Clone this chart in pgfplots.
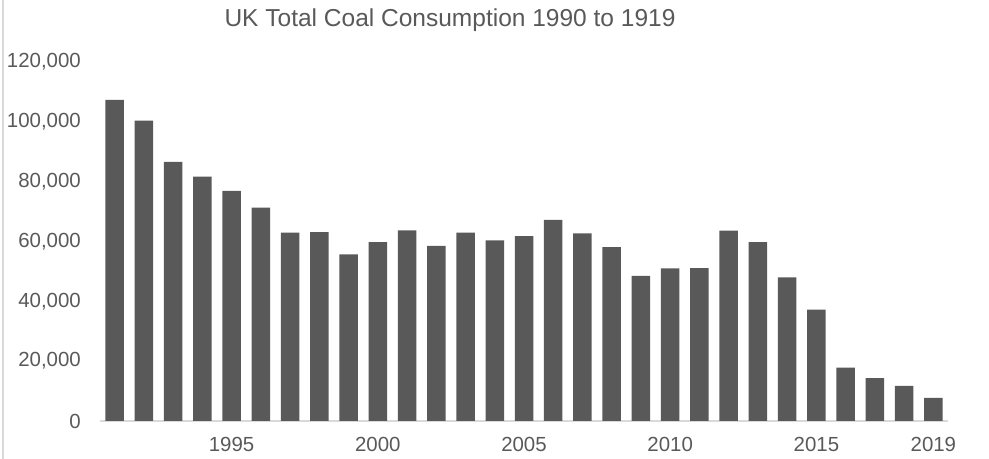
\documentclass[border=0pt]{standalone}
\usepackage{pgfplots}
\pgfplotsset{compat=1.18}
\usepackage{fontspec}
\setmainfont{Liberation Sans}
\definecolor{barc}{HTML}{595959}
\definecolor{txt}{HTML}{595959}
\definecolor{axc}{HTML}{D9D9D9}
\begin{document}
\begin{tikzpicture}
\path[use as bounding box] (0,0) rectangle (989bp,459bp);
\draw[axc, line width=1.2bp] (3bp,0) -- (3bp,459bp);
\node[text=txt, font=\fontsize{24.6}{28}\selectfont] at (450bp,439bp) {UK Total Coal Consumption 1990 to 1919};
\begin{axis}[at={(100bp,38bp)}, anchor=south west, scale only axis,
  width=848bp, height=359bp,
  xmin=-0.5, xmax=28.5, ymin=0, ymax=120000,
  axis x line*=bottom, axis y line*=left,
  x axis line style={axc, line width=1.2bp, -},
  y axis line style={draw=none},
  major tick length=0pt,
  ytick={0,20000,40000,60000,80000,100000,120000},
  scaled y ticks=false,
  /pgf/number format/fixed,
  /pgf/number format/1000 sep={,},
  /pgf/number format/assume math mode=true,
  yticklabel style={anchor=east, inner sep=0pt, xshift=-19bp},
  xtick={4,9,14,19,24,28},
  xticklabels={1995,2000,2005,2010,2015,2019},
  xticklabel style={anchor=north, inner sep=0pt, yshift=-16bp},
  tick label style={font=\fontsize{20.5}{24}\selectfont, text=txt},
  ybar, bar width=18.5bp,
]
\addplot[fill=barc, draw=none] coordinates {
(0,107300) (1,100400) (2,86600) (3,81700) (4,76900) (5,71300) (6,63000) (7,63100)
(8,55700) (9,59800) (10,63700) (11,58500) (12,63000) (13,60400) (14,61800)
(15,67200) (16,62700) (17,58100) (18,48500) (19,51000) (20,51100) (21,63600)
(22,59800) (23,48000) (24,37200) (25,17800) (26,14300) (27,11700) (28,7700)
};
\end{axis}
\end{tikzpicture}
\end{document}
